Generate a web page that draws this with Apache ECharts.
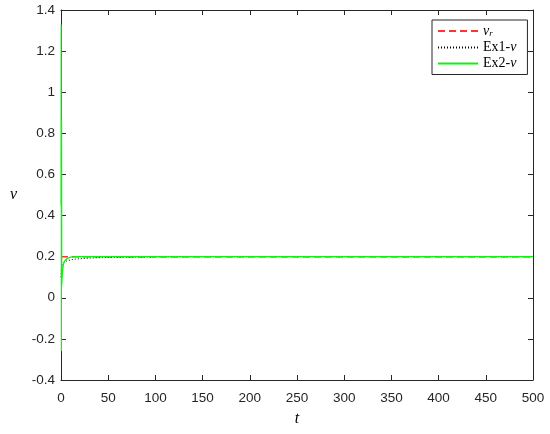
<!DOCTYPE html>
<html><head><meta charset="utf-8">
<script src="https://cdn.jsdelivr.net/npm/echarts@6/dist/echarts.min.js"></script>
<style>html,body{margin:0;padding:0;background:#fff}#c{width:550px;height:434px}</style>
</head><body><div id="c"></div>
<script>
// time samples
const tVals = [0, 0.2, 0.4, 0.6, 0.8, 1, 1.5, 2, 3, 4, 5, 6, 8, 10, 15, 20, 30, 40, 50, 60, 80, 100, 150, 200, 300, 400, 500];
// reference v_r
const vrVals = tVals.map(() => 0.2);
// Ex1-v (black dotted)
const ex1Vals = [0.10, 0.12, 0.14, 0.15, 0.155, 0.16, 0.165, 0.168, 0.172, 0.175, 0.177, 0.179, 0.182, 0.184, 0.188, 0.19, 0.193, 0.195, 0.196, 0.197, 0.198, 0.199, 0.2, 0.2, 0.2, 0.2, 0.2];
// Ex2-v (green)
const ex2Vals = [0.45, 1.33, -0.26, 0.87, 0.06, 0.08, 0.12, 0.145, 0.17, 0.18, 0.186, 0.19, 0.195, 0.198, 0.2, 0.2, 0.2, 0.2, 0.2, 0.2, 0.2, 0.2, 0.2, 0.2, 0.2, 0.2, 0.2];
const xTicks = {min: 0, max: 500, interval: 50};
const yTicks = {min: -0.4, max: 1.4, interval: 0.2};

const pair = (vals) => tVals.map((t, i) => [t, vals[i]]);
const chart = echarts.init(document.getElementById('c'), null, {renderer: 'canvas'});
const axisCol = '#262626';
const lbl = {color: axisCol, fontFamily: 'Liberation Sans, Arial, sans-serif', fontSize: 13.5};
const fmt = v => String(parseFloat(v.toFixed(1)));
const line = {onZero: false, lineStyle: {color: axisCol, width: 1}};
const tick = {inside: true, length: 5, lineStyle: {color: axisCol}};
chart.setOption({
  animation: false,
  backgroundColor: '#fff',
  grid: {left: 61, right: 17, top: 10, bottom: 54},
  xAxis: [
    {type: 'value', min: xTicks.min, max: xTicks.max, interval: xTicks.interval, position: 'bottom',
     axisLine: line, axisTick: tick,
     axisLabel: Object.assign({margin: 11, formatter: fmt}, lbl), splitLine: {show: false},
     name: 't', nameLocation: 'middle', nameGap: 31,
     nameTextStyle: {fontFamily: 'Liberation Serif, serif', fontStyle: 'italic', fontSize: 16, color: '#000'}},
    {type: 'value', min: xTicks.min, max: xTicks.max, interval: xTicks.interval, position: 'top',
     axisLine: line, axisTick: tick,
     axisLabel: {show: false}, splitLine: {show: false}}
  ],
  yAxis: [
    {type: 'value', min: yTicks.min, max: yTicks.max, interval: yTicks.interval, position: 'left',
     axisLine: line, axisTick: tick,
     axisLabel: Object.assign({margin: 6, formatter: fmt}, lbl), splitLine: {show: false},
     name: 'v', nameLocation: 'middle', nameGap: 44, nameRotate: 0,
     nameTextStyle: {fontFamily: 'Liberation Serif, serif', fontStyle: 'italic', fontSize: 16, color: '#000'}},
    {type: 'value', min: yTicks.min, max: yTicks.max, interval: yTicks.interval, position: 'right',
     axisLine: line, axisTick: tick,
     axisLabel: {show: false}, splitLine: {show: false}}
  ],
  legend: {
    left: 432, top: 20, orient: 'vertical', itemWidth: 40, itemHeight: 10, itemGap: 2,
    padding: [4, 11, 4, 5], borderColor: axisCol, borderWidth: 1, backgroundColor: '#fff',
    itemStyle: {opacity: 0},
    data: ['vr', 'Ex1-v', 'Ex2-v'],
    formatter: function (name) {
      if (name === 'vr') return '{i|v}{s|r}';
      if (name === 'Ex1-v') return '{n|Ex1-}{i|v}';
      return '{n|Ex2-}{i|v}';
    },
    textStyle: {
      fontFamily: 'Liberation Serif, serif', fontSize: 14, color: '#000',
      rich: {
        n: {fontFamily: 'Liberation Serif, serif', fontSize: 14, color: '#000'},
        i: {fontFamily: 'Liberation Serif, serif', fontSize: 14, fontStyle: 'italic', color: '#000'},
        s: {fontFamily: 'Liberation Serif, serif', fontSize: 9, fontStyle: 'italic', color: '#000', padding: [6, 0, 0, 0]}
      }
    }
  },
  series: [
    {name: 'vr', type: 'line', symbol: 'none', data: pair(vrVals), z: 2,
     lineStyle: {color: '#ff3333', width: 1.5, type: [7, 4]}, itemStyle: {color: '#ff3333'}},
    {name: 'Ex1-v', type: 'line', symbol: 'none', data: pair(ex1Vals), z: 3,
     lineStyle: {color: '#000', width: 1, type: [1, 2]}, itemStyle: {color: '#000'}},
    {name: 'Ex2-v', type: 'line', symbol: 'none', data: pair(ex2Vals), z: 4,
     lineStyle: {color: '#11f011', width: 1.2}, itemStyle: {color: '#11f011'}}
  ]
});
</script></body></html>
